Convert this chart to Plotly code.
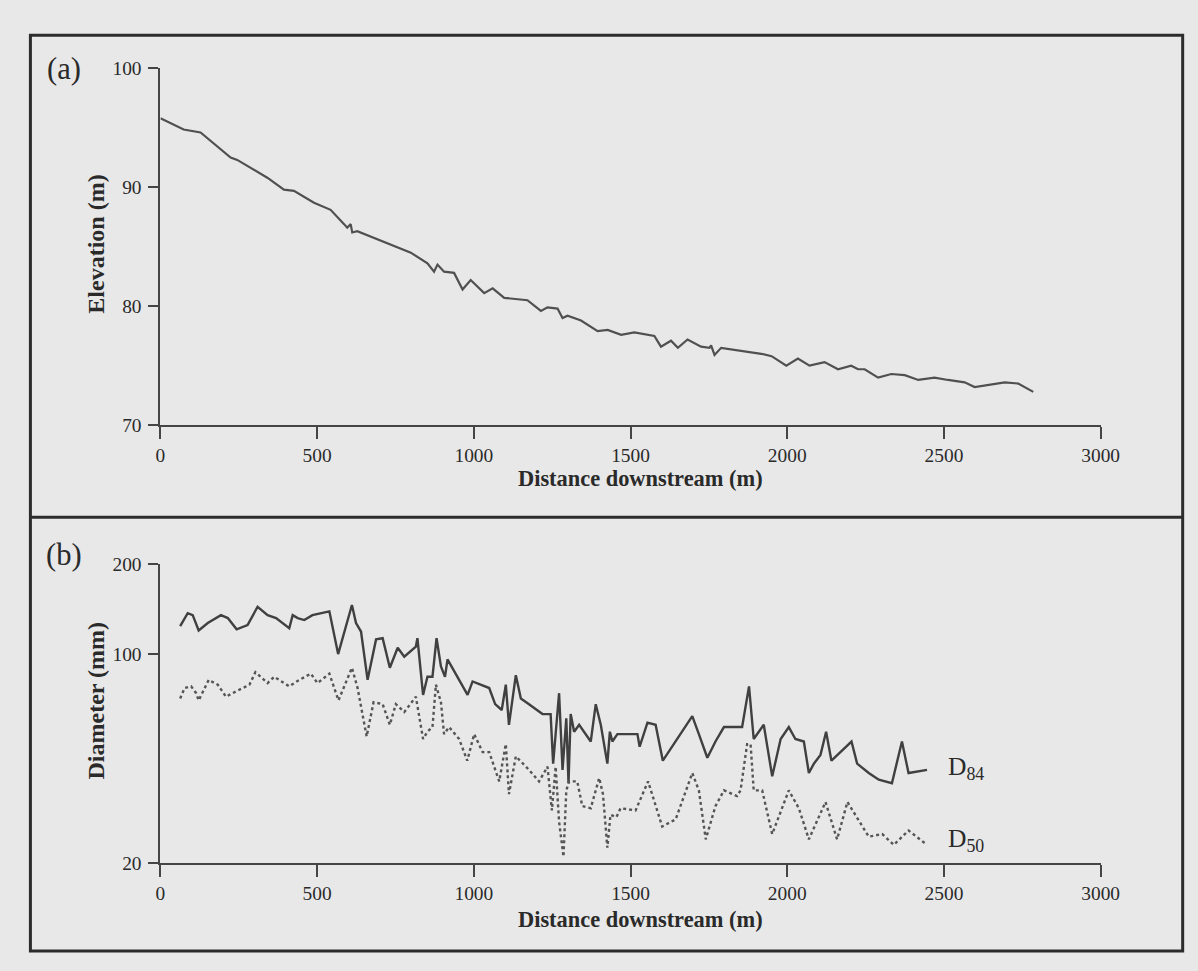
import math
import plotly.graph_objects as go

# ---------------- data ----------------
# (a) Elevation profile
dist_a = [0, 74, 128, 224, 245, 341, 394, 426, 490, 543, 586, 596, 607, 612, 628,
          735, 799, 852, 873, 884, 905, 937, 964, 990, 1033, 1060, 1097, 1171,
          1214, 1235, 1267, 1283, 1299, 1342, 1395, 1427, 1470, 1512, 1576, 1597,
          1629, 1651, 1682, 1725, 1752, 1757, 1768, 1789, 1917, 1950, 1997, 2034,
          2071, 2119, 2162, 2204, 2226, 2247, 2290, 2332, 2375, 2418, 2470, 2513,
          2566, 2598, 2641, 2694, 2737, 2785]
elev_a = [95.8, 94.85, 94.6, 92.5, 92.3, 90.8, 89.8, 89.7, 88.7, 88.1, 86.9, 86.6, 86.9, 86.2, 86.3,
          85.2, 84.5, 83.6, 82.9, 83.5, 82.9, 82.8, 81.4, 82.2, 81.1, 81.5, 80.7, 80.5,
          79.6, 79.9, 79.8, 79.0, 79.2, 78.8, 77.9, 78.0, 77.6, 77.8, 77.5, 76.6,
          77.1, 76.5, 77.2, 76.6, 76.5, 76.7, 75.9, 76.5, 76.0, 75.8, 75.0, 75.6,
          75.0, 75.3, 74.7, 75.0, 74.7, 74.7, 74.0, 74.3, 74.2, 73.8, 74.0, 73.8,
          73.6, 73.2, 73.4, 73.6, 73.5, 72.8]

# (b) Grain size: D84 (solid)
dist_d84 = [63, 87, 103, 122, 151, 193, 215, 243, 278, 310, 342, 369, 411, 422, 438, 459,
            485, 539, 567, 611, 624, 640, 661, 688, 709, 732, 757, 778, 815, 820, 838,
            852, 868, 881, 895, 908, 916, 980, 996, 1049, 1068, 1089, 1102, 1112, 1134,
            1150, 1176, 1219, 1245, 1253, 1272, 1283, 1295, 1302, 1309, 1320, 1336, 1373,
            1389, 1405, 1426, 1434, 1442, 1458, 1522, 1529, 1554, 1580, 1603, 1654, 1697,
            1718, 1745, 1771, 1798, 1856, 1878, 1893, 1925, 1952, 1979, 2005, 2026, 2053,
            2069, 2085, 2106, 2124, 2141, 2205, 2223, 2260, 2292, 2334, 2366, 2387, 2446]
d84 = [124, 137, 135, 120, 127, 135, 132, 121, 125, 144, 135, 132, 122, 135, 132, 130,
       135, 139, 100, 146, 127, 119, 82, 112, 113, 90, 105, 98, 106, 113, 73,
       84, 84, 113, 91, 84, 96, 73, 81, 77, 68, 65, 79, 58, 85,
       71, 68, 63, 63, 43, 74, 41, 61, 37, 63, 55, 58, 51,
       68, 58, 43, 55, 51, 54, 54, 49, 59, 58, 44, 53, 62,
       54, 45, 51, 57, 57, 78, 52, 58, 39, 52, 57, 52, 51,
       40, 43, 46, 55, 44, 51, 43, 40, 38, 37, 51, 40, 41]

# (b) Grain size: D50 (dotted)
dist_d50 = [63, 77, 98, 114, 122, 135, 154, 183, 209, 241, 284, 303, 342, 363, 411, 443,
            480, 501, 539, 568, 611, 629, 658, 680, 709, 732, 751, 778, 815, 838, 852,
            868, 879, 895, 905, 921, 953, 979, 1001, 1028, 1049, 1081, 1102, 1112, 1134,
            1176, 1208, 1235, 1249, 1261, 1272, 1286, 1295, 1304, 1330, 1346, 1373, 1400,
            1412, 1426, 1436, 1455, 1468, 1516, 1556, 1601, 1644, 1697, 1718, 1740, 1771,
            1798, 1840, 1851, 1872, 1883, 1893, 1920, 1952, 2005, 2037, 2069, 2122, 2159,
            2192, 2260, 2303, 2340, 2387, 2446]
d50 = [71, 77, 78, 74, 70, 75, 82, 79, 72, 75, 79, 87, 80, 84, 78, 82,
       86, 80, 86, 70, 90, 77, 53, 69, 68, 58, 68, 64, 72, 52, 55,
       57, 79, 69, 54, 57, 52, 44, 54, 47, 47, 37.5, 50, 34, 45.5,
       41, 37.5, 42, 30, 42, 27.5, 21, 35, 37.5, 37.5, 31, 30.5, 38.5,
       34, 22.5, 29, 28.5, 30.5, 30, 37.5, 26.5, 28, 40, 35, 24, 31,
       35, 33.5, 35, 50, 50, 35, 35, 25, 35, 30.5, 24, 32, 24,
       32, 24.5, 25, 23, 25.7, 23]

x_ticks = [0, 500, 1000, 1500, 2000, 2500, 3000]
elev_ticks = [70, 80, 90, 100]
diam_ticks = [20, 100, 200]

# ---------------- figure ----------------
W, H = 1214, 985
SERIF = "Liberation Serif, Times New Roman, serif"
INK = "#2a2a2a"
LINE = "#454545"
BG = "#e8e8e8"

# the rendered page shows the figure slightly reduced and offset; positions below are
# given in target-picture pixels and converted to figure paper coordinates.
OX, OY, SX, SY = 4.6, 8.7, 0.98, 0.979

def px_x(p):
    return min(max((p - OX) / SX / W, 0), 1)

def px_y(p):
    return min(max((H - (p - OY) / SY) / H, 0), 1)

def fs(size):
    return round(size / SX, 1)

fig = go.Figure()

fig.add_trace(go.Scatter(x=dist_a, y=elev_a, mode="lines",
                         line=dict(color="#505050", width=2.2),
                         xaxis="x", yaxis="y", showlegend=False))
fig.add_trace(go.Scatter(x=dist_d84, y=d84, mode="lines",
                         line=dict(color="#404040", width=2.4),
                         xaxis="x2", yaxis="y2", showlegend=False))
fig.add_trace(go.Scatter(x=dist_d50, y=d50, mode="lines",
                         line=dict(color="#555555", width=2.4, dash="3px,3px"),
                         xaxis="x2", yaxis="y2", showlegend=False))

axis_common = dict(showline=True, linecolor=LINE, linewidth=2, ticks="outside",
                   tickcolor=LINE, tickwidth=2, showgrid=False, zeroline=False,
                   tickfont=dict(family=SERIF, size=fs(19), color=INK))

xdom = [px_x(160), px_x(1100)]
fig.update_layout(
    width=W, height=H,
    margin=dict(l=0, r=0, t=0, b=0),
    paper_bgcolor=BG, plot_bgcolor=BG,
    xaxis=dict(domain=xdom, range=[0, 3000], tickvals=x_ticks, ticklen=12,
               anchor="y", **axis_common),
    yaxis=dict(domain=[px_y(424), px_y(67)], range=[70, 100], tickvals=elev_ticks,
               ticklen=10, ticklabelstandoff=3, anchor="x", **axis_common),
    xaxis2=dict(domain=xdom, range=[0, 3000], tickvals=x_ticks, ticklen=12,
                anchor="y2", **axis_common),
    yaxis2=dict(domain=[px_y(862), px_y(563)], type="log",
                range=[math.log10(20), math.log10(200)], tickvals=diam_ticks,
                ticktext=[str(v) for v in diam_ticks],
                ticklen=10, ticklabelstandoff=3, anchor="x2", **axis_common),
)

xt_font = dict(family=SERIF, size=fs(22), color=INK)
yt_font = dict(family=SERIF, size=fs(23.5), color=INK)
annotations = [
    dict(text="<b>Elevation (m)</b>", x=px_x(96), y=px_y(243), textangle=-90, font=yt_font),
    dict(text="<b>Diameter (mm)</b>", x=px_x(96), y=px_y(700), textangle=-90, font=yt_font),
    dict(text="<b>Distance downstream (m)</b>", x=px_x(640), y=px_y(477), font=xt_font),
    dict(text="<b>Distance downstream (m)</b>", x=px_x(640), y=px_y(918), font=xt_font),
]
for a in annotations:
    a.update(xref="paper", yref="paper", showarrow=False,
             xanchor="center", yanchor="middle")
panel_font = dict(family=SERIF, size=fs(30), color=INK)
label_font = dict(family=SERIF, size=fs(25), color=INK)
annotations += [
    dict(text="(a)", x=px_x(64), y=px_y(68), xref="paper", yref="paper",
         showarrow=False, font=panel_font, xanchor="center", yanchor="middle"),
    dict(text="(b)", x=px_x(64), y=px_y(554), xref="paper", yref="paper",
         showarrow=False, font=panel_font, xanchor="center", yanchor="middle"),
    dict(text="D<sub>84</sub>", x=2505, y=math.log10(d84[-1]) + 0.005, xref="x2", yref="y2",
         showarrow=False, font=label_font, xanchor="left", yanchor="middle"),
    dict(text="D<sub>50</sub>", x=2505, y=math.log10(d50[-1]) + 0.015, xref="x2", yref="y2",
         showarrow=False, font=label_font, xanchor="left", yanchor="middle"),
]
fig.update_layout(annotations=annotations)

shapes = [
    # outer frame
    dict(type="rect", xref="paper", yref="paper", x0=px_x(30), x1=min(px_x(1182), 0.9985),
         y0=px_y(950), y1=px_y(34), line=dict(color="#2c2c2c", width=3)),
    # divider
    dict(type="line", xref="paper", yref="paper", x0=px_x(30), x1=min(px_x(1182), 0.9985),
         y0=px_y(516), y1=px_y(516), line=dict(color="#2c2c2c", width=3)),
]
fig.update_layout(shapes=shapes)

fig.write_html("out.html", config={"displayModeBar": False},
               post_script="document.body.style.margin='0';"
                           "document.body.style.overflow='hidden';"
                           "document.body.style.background='" + BG + "';"
                           "document.documentElement.style.background='" + BG + "';")
